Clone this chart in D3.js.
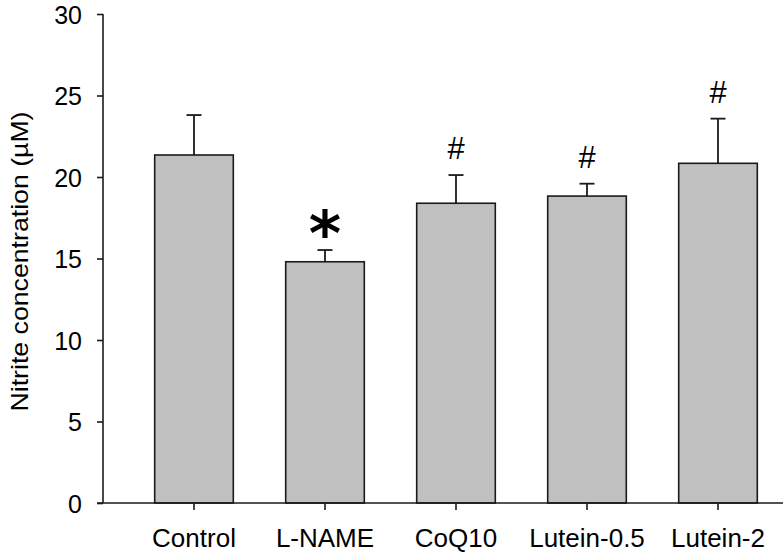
<!DOCTYPE html>
<html>
<head>
<meta charset="utf-8">
<script src="https://cdn.jsdelivr.net/npm/d3@7"></script>
<style>
  html, body { margin: 0; padding: 0; background: #fff; }
  svg text { font-family: Arial, "Liberation Sans", sans-serif; fill: #000; }
</style>
</head>
<body>
<svg id="chart" width="784" height="555"></svg>
<script>
const categories = ["Control", "L-NAME", "CoQ10", "Lutein-0.5", "Lutein-2"];
const means = [21.35, 14.8, 18.39, 18.83, 20.84];
const errors = [2.45, 0.72, 1.73, 0.76, 2.74];
const marks = ["", "*", "#", "#", "#"];
const yTicks = [0, 5, 10, 15, 20, 25, 30];
const yTitle = "Nitrite concentration (\u00B5M)";

const svg = d3.select("#chart");
const x = d3.scaleBand().domain(categories).range([128.5, 783.5]).paddingInner(0.4).paddingOuter(0.2);
const y = d3.scaleLinear().domain([0, 30]).range([503, 14]);
const axisX0 = 103;

// bars
svg.append("g").selectAll("rect").data(categories).join("rect")
  .attr("x", d => x(d))
  .attr("y", (d, i) => y(means[i]))
  .attr("width", x.bandwidth())
  .attr("height", (d, i) => y(0) - y(means[i]))
  .attr("fill", "#c0c0c0")
  .attr("stroke", "#1a1a1a")
  .attr("stroke-width", 1.6);

// error bars
const eb = svg.append("g").attr("stroke", "#1a1a1a").attr("stroke-width", 1.8);
categories.forEach((c, i) => {
  const cx = x(c) + x.bandwidth() / 2;
  eb.append("line").attr("x1", cx).attr("x2", cx).attr("y1", y(means[i])).attr("y2", y(means[i] + errors[i]));
  eb.append("line").attr("x1", cx - 7.5).attr("x2", cx + 7.5).attr("y1", y(means[i] + errors[i])).attr("y2", y(means[i] + errors[i]));
});

// significance marks
categories.forEach((c, i) => {
  if (!marks[i]) return;
  const cx = x(c) + x.bandwidth() / 2;
  const top = y(means[i] + errors[i]);
  if (marks[i] === "*") {
    svg.append("text").attr("x", cx).attr("y", top + 5)
      .attr("text-anchor", "middle")
      .style("font-family", "'DejaVu Sans', sans-serif")
      .style("font-size", "62px").style("font-weight", "bold")
      .text(marks[i]);
  } else {
    svg.append("text").attr("x", cx).attr("y", top - 16)
      .attr("text-anchor", "middle")
      .style("font-size", "31px")
      .text(marks[i]);
  }
});

// y axis
const yAxis = svg.append("g").attr("transform", `translate(${axisX0},0)`)
  .call(d3.axisLeft(y).tickValues(yTicks).tickSize(6).tickPadding(15));
yAxis.selectAll("text").style("font-size", "25px").attr("dy", "0.36em");
yAxis.selectAll("line, path").attr("stroke", "#1a1a1a").attr("stroke-width", 1.6);
yAxis.select(".domain").attr("d", `M0,${y(30)}V${y(0)}`);

// x axis
const xAxis = svg.append("g").attr("transform", `translate(0,${y(0)})`)
  .call(d3.axisBottom(x).tickSize(7).tickPadding(19));
xAxis.select(".domain").attr("d", `M${axisX0 - 6},0H783`);
xAxis.selectAll("line, path").attr("stroke", "#1a1a1a").attr("stroke-width", 1.6);
xAxis.selectAll("text").style("font-size", "26px").attr("dy", "0.71em");

// y title
svg.append("text")
  .attr("transform", `translate(28,${(110 + 413) / 2}) rotate(-90)`)
  .attr("text-anchor", "middle")
  .attr("textLength", 300)
  .attr("lengthAdjust", "spacingAndGlyphs")
  .style("font-size", "24px")
  .text(yTitle);
</script>
</body>
</html>
